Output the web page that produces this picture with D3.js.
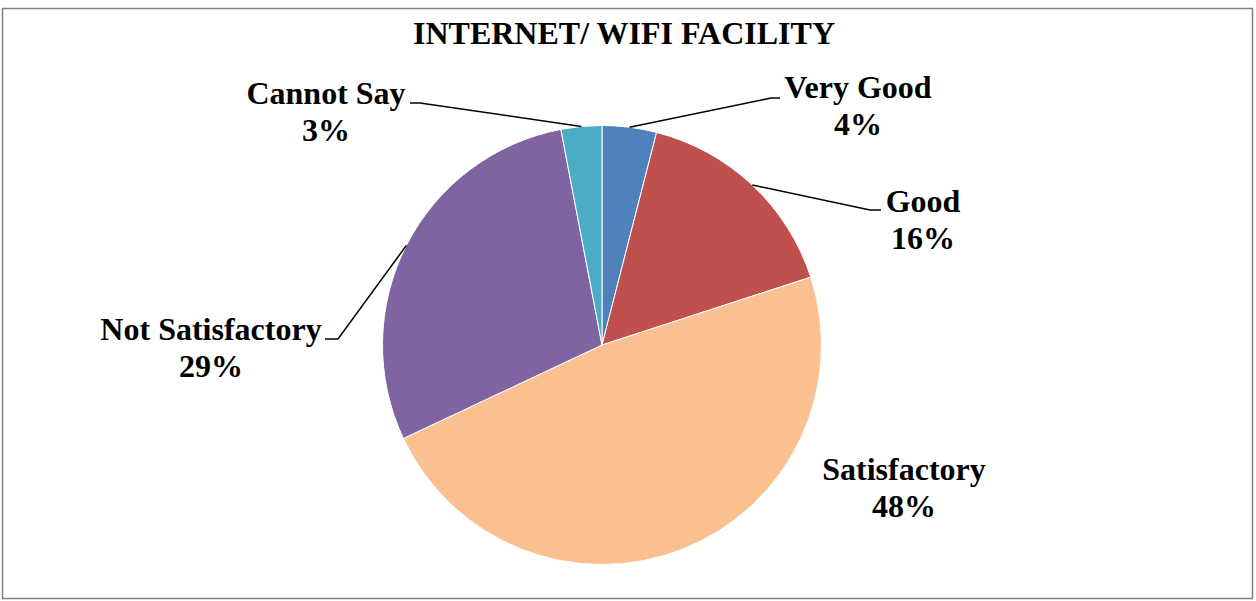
<!DOCTYPE html>
<html>
<head>
<meta charset="utf-8">
<script src="https://cdn.jsdelivr.net/npm/d3@7.9.0/dist/d3.min.js"></script>
<style>
  html, body { margin: 0; padding: 0; background: #fff; }
  svg { display: block; }
  text { font-family: "Liberation Serif", "Times New Roman", serif; font-weight: bold; fill: #000; }
</style>
</head>
<body>
<svg id="chart" width="1256" height="601"></svg>
<script>
// chart data
const categories = ['Very Good', 'Good', 'Satisfactory', 'Not Satisfactory', 'Cannot Say'];
const percents = [4, 16, 48, 29, 3];
const sliceColors = ['#4f81bd', '#c0504d', '#fac090', '#8064a2', '#4bacc6'];

// where each label sits (centre x, first baseline) and the elbow of its leader line
const labelPos = [
  { x: 858, y: 98, elbow: [771, 98], end: [780, 98] },
  { x: 923, y: 212, elbow: [870, 210], end: [881, 210] },
  { x: 904, y: 480, elbow: null, end: null },
  { x: 211, y: 340, elbow: [338, 339], end: [325, 339] },
  { x: 326, y: 104, elbow: [420, 103], end: [410, 103] }
];

const width = 1256, height = 601;
const cx = 602, cy = 345, radius = 219.5;
const fontSize = '32px';

const svg = d3.select('#chart');

// outer frame
svg.append('rect')
  .attr('x', 2.5).attr('y', 8.5)
  .attr('width', 1250).attr('height', 590)
  .attr('fill', 'none')
  .attr('stroke', '#7f7f7f')
  .attr('stroke-width', 1.5);

// title
svg.append('text')
  .attr('x', 624).attr('y', 44)
  .attr('text-anchor', 'middle')
  .style('font-size', fontSize)
  .text('INTERNET/ WIFI FACILITY');

const data = categories.map((c, i) => ({ label: c, value: percents[i] }));
const pie = d3.pie().sort(null).value(d => d.value);
const arcs = pie(data);
const arcGen = d3.arc().innerRadius(0).outerRadius(radius);
const edgeGen = d3.arc().innerRadius(radius).outerRadius(radius);

const g = svg.append('g').attr('transform', `translate(${cx},${cy})`);

g.selectAll('path')
  .data(arcs)
  .join('path')
  .attr('d', arcGen)
  .attr('fill', (d, i) => sliceColors[i])
  .attr('stroke', '#fff')
  .attr('stroke-width', 1);

// leader lines
arcs.forEach((d, i) => {
  const lp = labelPos[i];
  if (!lp.elbow) return;
  const [ex, ey] = edgeGen.centroid(d);
  const pts = [[cx + ex, cy + ey], lp.elbow, lp.end];
  svg.append('path')
    .attr('d', d3.line()(pts))
    .attr('fill', 'none')
    .attr('stroke', '#000')
    .attr('stroke-width', 1.5);
});

// labels
arcs.forEach((d, i) => {
  const lp = labelPos[i];
  const t = svg.append('text')
    .attr('text-anchor', 'middle')
    .style('font-size', fontSize);
  t.append('tspan').attr('x', lp.x).attr('y', lp.y).text(d.data.label);
  t.append('tspan').attr('x', lp.x).attr('y', lp.y + 37).text(d.data.value + '%');
});
</script>
</body>
</html>
